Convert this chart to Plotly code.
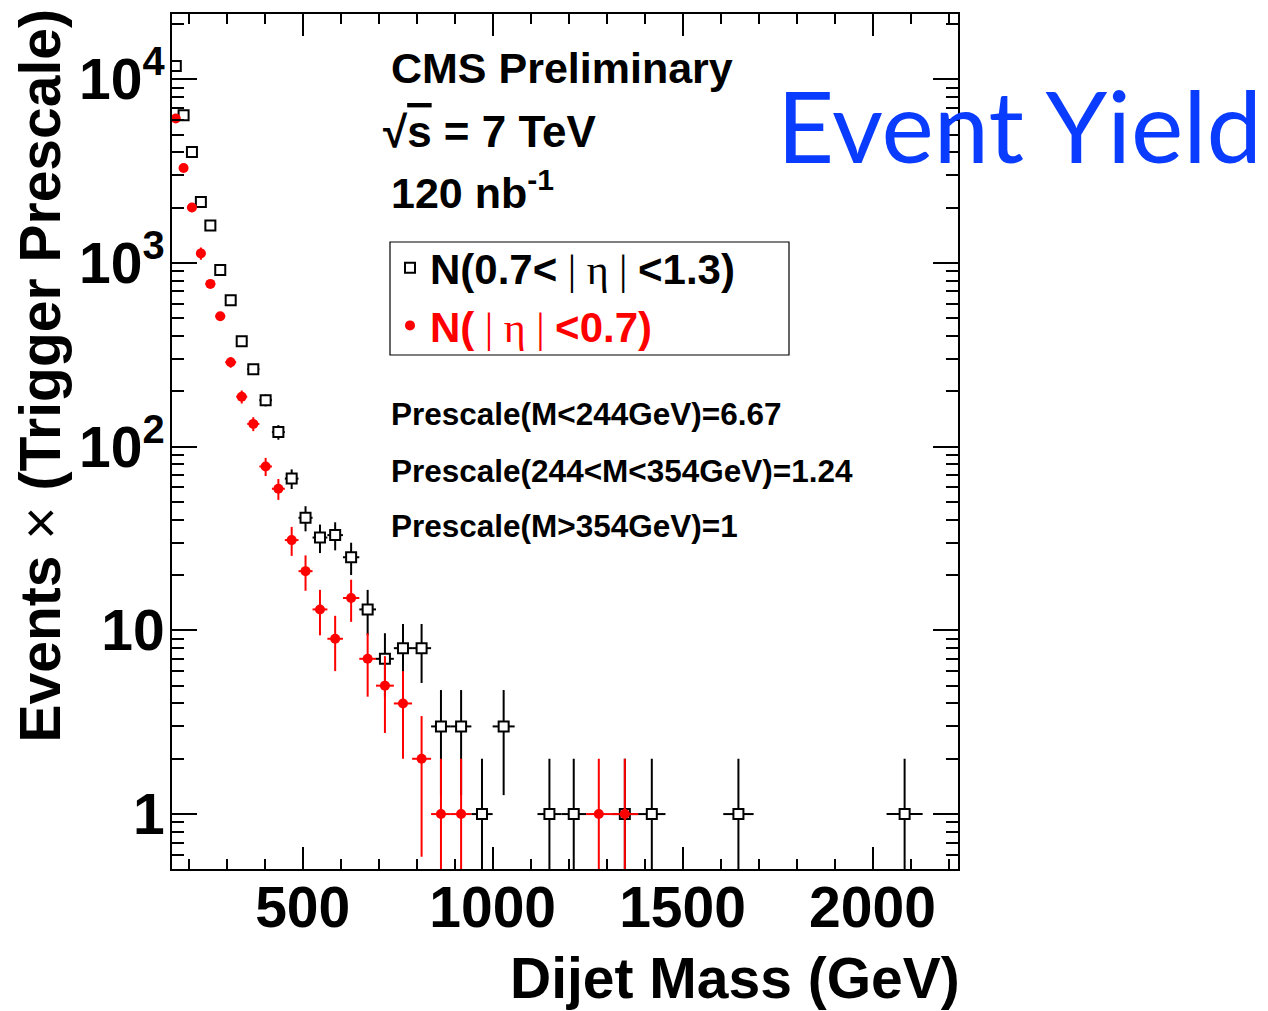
import math
import plotly.graph_objects as go

# ---------------- data ----------------
bin_edges = [156, 176, 197, 220, 244, 270, 296, 325, 354, 386, 419, 453, 489, 526,
             565, 606, 649, 693, 740, 788, 838, 890, 944, 1000, 1058, 1118, 1181,
             1246, 1313, 1383, 1455, 1530, 1607, 1687, 1770, 1856, 1945, 2037,
             2132, 2231]

# Events x (trigger prescale) per bin, None = empty bin
outer_eta = [11800, 6370, 4015, 2143, 1600, 914, 627, 375, 264, 179, 120, 67, 41,
             32, 33, 25, 13, 7, 8, 8, 3, 3, 1, 3, None, 1, 1, None, 1, 1, None,
             None, 1, None, None, None, None, 1, None]
inner_eta = [6110, 3285, 2005, 1127, 769, 513, 288, 187, 133, 78, 59, 31, 21, 13,
             9, 15, 7, 5, 4, 2, 1, 1, None, None, None, None, None, 1, 1, None,
             None, None, None, None, None, None, None, None, None]

prescale_bounds = [244, 354]
prescale_values = [6.67, 1.24, 1.0]

label_outer = "N(0.7&lt;<span style='font-family:Liberation Serif;font-weight:normal'> | η | </span>&lt;1.3)"
label_inner = ("<span style='color:#ff0000'>N(<span style='font-family:Liberation Serif;"
               "font-weight:normal;color:#ff0000'> | η | </span>&lt;0.7)</span>")

x_tickvals = [500, 1000, 1500, 2000]
x_ticktext = ["500", "1000", "1500", "2000"]
y_tickvals = [1, 10, 100, 1000, 10000]
y_ticktext = ["1", "10", "10<sup>2</sup>", "10<sup>3</sup>", "10<sup>4</sup>"]


def prescale_for(m):
    if m < prescale_bounds[0]:
        return prescale_values[0]
    if m < prescale_bounds[1]:
        return prescale_values[1]
    return prescale_values[2]


def series(vals):
    xs, ys, ex, ey = [], [], [], []
    for i, v in enumerate(vals):
        if v is None:
            continue
        lo, hi = bin_edges[i], bin_edges[i + 1]
        c = 0.5 * (lo + hi)
        xs.append(c)
        ys.append(v)
        ex.append(0.5 * (hi - lo))
        ey.append(math.sqrt(prescale_for(c) * v))
    return xs, ys, ex, ey


FONT = "Liberation Sans, Arial, Helvetica, sans-serif"

fig = go.Figure()

xo, yo, exo, eyo = series(outer_eta)
fig.add_trace(go.Scatter(
    x=xo, y=yo, mode="markers", name=label_outer,
    marker=dict(symbol="square", size=10, color="white",
                line=dict(color="black", width=2)),
    error_y=dict(type="data", array=eyo, color="black", thickness=2, width=0),
    error_x=dict(type="data", array=exo, color="black", thickness=2, width=0),
))

xi, yi, exi, eyi = series(inner_eta)
fig.add_trace(go.Scatter(
    x=xi, y=yi, mode="markers", name=label_inner,
    marker=dict(symbol="circle", size=10, color="#ff0000"),
    error_y=dict(type="data", array=eyi, color="#ff0000", thickness=2, width=0),
    error_x=dict(type="data", array=exi, color="#ff0000", thickness=2, width=0),
))

# plot area in pixels
L, R, T, B = 172, 958, 14, 869
W_, H_ = R - L, B - T


def fx(px):
    return (px - L) / W_


def fy(py):
    return (B - py) / H_


minor_y = [m * 10 ** d for d in range(-1, 5) for m in range(2, 10)]
minor_y = [v for v in minor_y if 0.5 < v < 22000]
minor_x = [v for v in range(200, 2300, 100) if v % 500 != 0]

fig.update_layout(
    width=1268, height=1011, autosize=False,
    margin=dict(l=L, r=1268 - R, t=T, b=1011 - B, pad=0),
    paper_bgcolor="white", plot_bgcolor="white",
    showlegend=True,
    legend=dict(
        x=fx(390), y=fy(234), xanchor="left", yanchor="top",
        bgcolor="rgba(0,0,0,0)", borderwidth=0,
        font=dict(family=FONT, size=42, color="black", weight="bold"),
        tracegroupgap=0, itemsizing="trace",
    ),
    xaxis=dict(
        range=[156, 2225], showgrid=False, zeroline=False,
        showline=True, linecolor="black", linewidth=2, mirror="allticks",
        ticks="inside", ticklen=22, tickwidth=2, tickcolor="black",
        tickmode="array", tickvals=x_tickvals, ticktext=x_ticktext,
        ticklabelstandoff=-12,
        tickfont=dict(family=FONT, size=57, color="black", weight="bold"),
        minor=dict(ticks="inside", ticklen=10, tickwidth=2, tickcolor="black",
                   tickmode="array", tickvals=minor_x),
    ),
    yaxis=dict(
        type="log", range=[-0.299, 4.355], showgrid=False, zeroline=False,
        showline=True, linecolor="black", linewidth=2, mirror="allticks",
        ticks="inside", ticklen=25, tickwidth=2, tickcolor="black",
        tickmode="array", tickvals=y_tickvals, ticktext=y_ticktext,
        ticklabelstandoff=-6,
        tickfont=dict(family=FONT, size=57, color="black", weight="bold"),
        minor=dict(ticks="inside", ticklen=12, tickwidth=2, tickcolor="black",
                   tickmode="array", tickvals=minor_y),
    ),
)

# legend frame
fig.add_shape(type="rect", xref="paper", yref="paper",
              x0=fx(390), x1=fx(789), y0=fy(355), y1=fy(242),
              line=dict(color="black", width=1.2), fillcolor="rgba(0,0,0,0)",
              layer="above")

bold = dict(family=FONT, color="black", weight="bold")
annotations = [
    dict(text="CMS Preliminary", x=fx(389), y=fy(68), size=43),
    dict(text="√<span style='text-decoration:overline'>s</span> = 7 TeV",
         x=fx(381), y=fy(131), size=44),
    dict(text="120 nb<sup>-1</sup>", x=fx(389), y=fy(190), size=43),
    dict(text="Prescale(M&lt;244GeV)=6.67", x=fx(389), y=fy(414), size=31.5),
    dict(text="Prescale(244&lt;M&lt;354GeV)=1.24", x=fx(389), y=fy(471), size=31.5),
    dict(text="Prescale(M&gt;354GeV)=1", x=fx(389), y=fy(526), size=31.5),
]
for a in annotations:
    fig.add_annotation(text=a["text"], x=a["x"], y=a["y"], xref="paper", yref="paper",
                       xanchor="left", yanchor="middle", showarrow=False,
                       font=dict(bold, size=a["size"]))

# axis titles
fig.add_annotation(text="Dijet Mass (GeV)", x=fx(961), y=fy(978), xref="paper",
                   yref="paper", xanchor="right", yanchor="middle", showarrow=False,
                   borderpad=0, font=dict(bold, size=57))
fig.add_annotation(text="Events <span style='font-weight:normal'>×</span> (Trigger Prescale)",
                   x=fx(39), y=fy(8), xref="paper", yref="paper", textangle=-90,
                   xanchor="center", yanchor="top", showarrow=False,
                   font=dict(bold, size=57))

# Event Yield title
fig.add_annotation(text="Event Yield", x=fx(1019), y=fy(124), xref="paper", yref="paper",
                   xanchor="center", yanchor="middle", showarrow=False, borderpad=0,
                   font=dict(family="Lato, Open Sans, sans-serif", size=99,
                             color="#0a3cff"))

fig.write_html("out.html")
